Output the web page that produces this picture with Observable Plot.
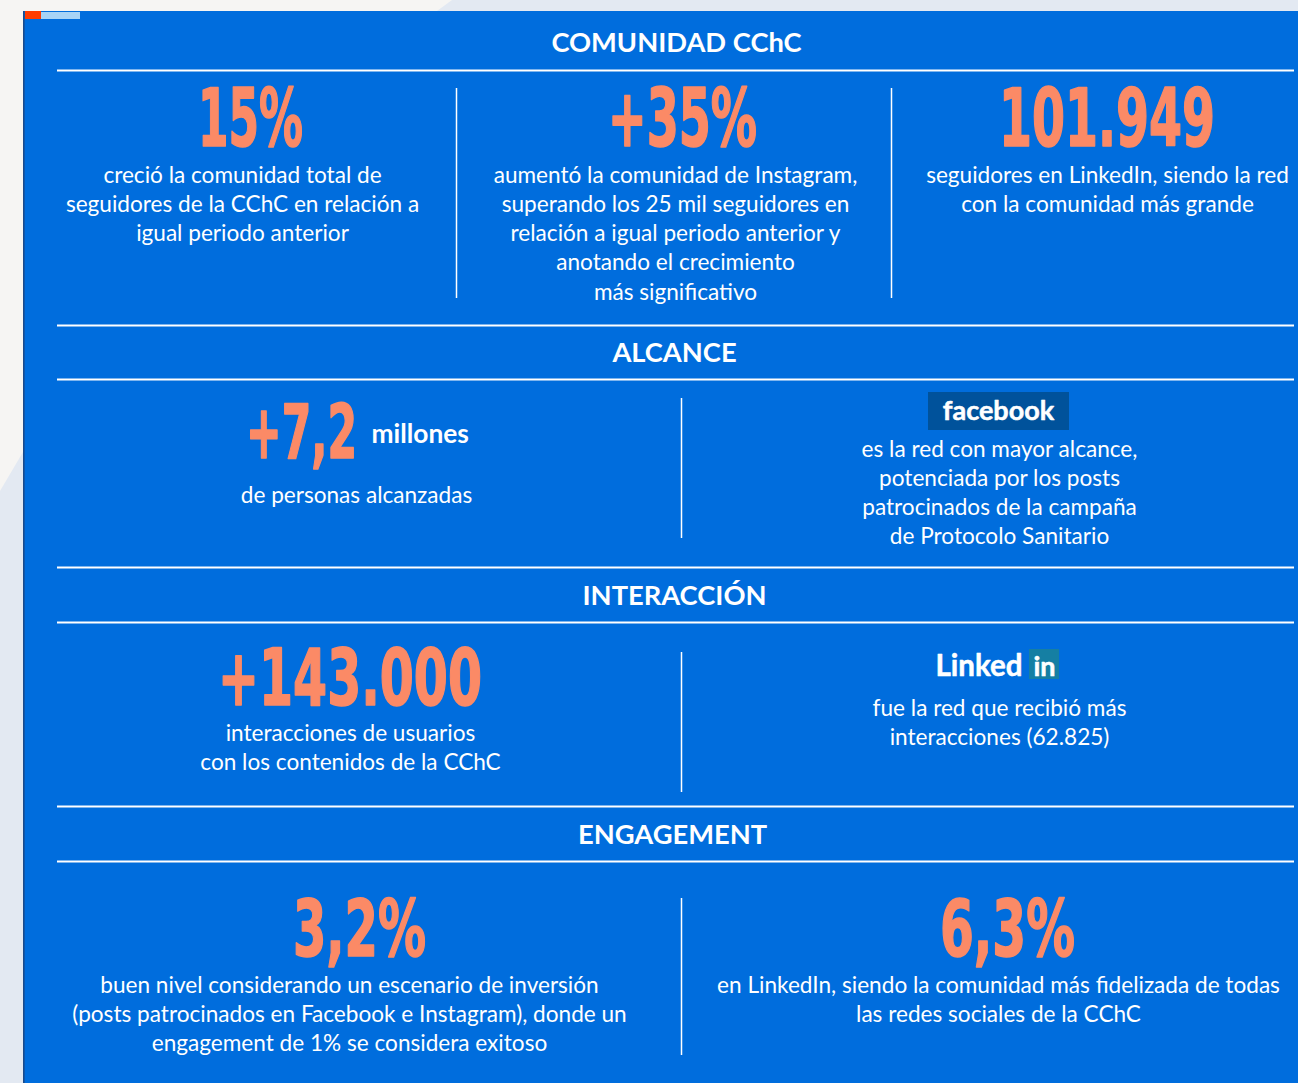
<!DOCTYPE html>
<html><head><meta charset="utf-8">
<script src="https://cdn.jsdelivr.net/npm/d3@7"></script>
<script src="https://cdn.jsdelivr.net/npm/@observablehq/plot@0.6"></script>
<style>
html,body{margin:0;padding:0;background:#f6f5f3;overflow:hidden;}
#chart svg{display:block;}
</style></head><body><div id="chart"></div>
<script>
// ---------- DATA ----------
const sectionTitles = ["COMUNIDAD CChC", "ALCANCE", "INTERACCIÓN", "ENGAGEMENT"];
const keyFigures = ["15%", "+35%", "101.949", "+7,2", "+143.000", "3,2%", "6,3%"];
const figureUnits = ["millones"];
const descriptions = [
  ["creció la comunidad total de", "seguidores de la CChC en relación a", "igual periodo anterior"],
  ["aumentó la comunidad de Instagram,", "superando los 25 mil seguidores en", "relación a igual periodo anterior y", "anotando el crecimiento", "más significativo"],
  ["seguidores en LinkedIn, siendo la red", "con la comunidad más grande"],
  ["de personas alcanzadas"],
  ["es la red con mayor alcance,", "potenciada por los posts", "patrocinados de la campaña", "de Protocolo Sanitario"],
  ["interacciones de usuarios", "con los contenidos de la CChC"],
  ["fue la red que recibió más", "interacciones (62.825)"],
  ["buen nivel considerando un escenario de inversión", "(posts patrocinados en Facebook e Instagram), donde un", "engagement de 1% se considera exitoso"],
  ["en LinkedIn, siendo la comunidad más fidelizada de todas", "las redes sociales de la CChC"]
];
const networkLogos = ["facebook", "Linked", "in"];

// ---------- LAYOUT (positions / sizes / styles) ----------
const W = 1298, H = 1083;
const BLUE = "#006ddd", ORANGE = "#fb8a66", WHITE = "#ffffff";
const bodyFont = "Lato, 'Open Sans', sans-serif";
const figFont = "'Liberation Sans Narrow', 'DejaVu Sans Condensed', 'Arial Narrow', sans-serif";
const titlePos = [{x: 676, y: 51}, {x: 674, y: 361}, {x: 674, y: 604}, {x: 672, y: 843}];
const figurePos = [
  {x: 250, y: 145, w: 105, s: 80}, {x: 682, y: 145, w: 149, s: 80}, {x: 1106.5, y: 145, w: 216, s: 80},
  {x: 301, y: 457, w: 111, s: 74}, {x: 349.5, y: 704, w: 264, s: 79},
  {x: 359, y: 955, w: 133, s: 79}, {x: 1007, y: 955, w: 135, s: 79}
];
const unitPos = [{x: 371, y: 442}];
const descPos = [
  {x: 242, y: 182}, {x: 675, y: 182}, {x: 1107, y: 182},
  {x: 356, y: 502}, {x: 999, y: 456},
  {x: 350, y: 740}, {x: 999, y: 715},
  {x: 349, y: 992}, {x: 998, y: 992}
];
const lineStep = 29.3;
const hRules = [70, 325, 379, 567, 622, 806, 861];
const vRules = [
  {x: 456, y1: 88, y2: 298}, {x: 891, y1: 88, y2: 298},
  {x: 681, y1: 398, y2: 538}, {x: 681, y1: 652, y2: 792}, {x: 681, y1: 898, y2: 1055}
];
const logoBoxes = [
  {x1: 928, x2: 1069, y1: 392, y2: 430, fill: "#00529b"},
  {x1: 1029, x2: 1059, y1: 649, y2: 679, fill: "#157fa3"}
];
const logoText = [
  {x: 998, y: 419, size: 27},
  {x: 935, y: 675, size: 29.5},
  {x: 1044, y: 675, size: 27}
];
const bgShape = [{x: 0, y: 491}, {x: 23, y: 452}, {x: 437, y: 11}, {x: 452, y: 0}, {x: W, y: 0}];
const decoBars = [
  {x1: 23, x2: W, y1: 11, y2: H, fill: BLUE},
  {x1: 23, x2: 24.6, y1: 11, y2: H, fill: "#1a4b8c"},
  {x1: 25, x2: 41, y1: 11, y2: 19, fill: "#ff3c00"},
  {x1: 41, x2: 80, y1: 12, y2: 19, fill: "#a8d4f6"}
];

// ---------- BUILD ROWS ----------
const titleRows = sectionTitles.map((t, i) => ({text: t, ...titlePos[i]}));
const figureRows = keyFigures.map((t, i) => ({text: t, ...figurePos[i]}));
const unitRows = figureUnits.map((t, i) => ({text: t, ...unitPos[i]}));
const descRows = descriptions.flatMap((lines, i) =>
  lines.map((t, j) => ({text: t, x: descPos[i].x, y: descPos[i].y + j * lineStep})));
const logoRows = networkLogos.map((t, i) => ({text: t, ...logoText[i]}));
const logoCentered = logoRows.filter((d, i) => i !== 1);
const logoStart = logoRows.filter((d, i) => i === 1);

const svg = Plot.plot({
  width: W, height: H, margin: 0,
  x: {domain: [0, W], range: [0, W], axis: null},
  y: {domain: [0, H], range: [0, H], axis: null},
  style: {background: "transparent", fontFamily: bodyFont},
  marks: [
    Plot.areaY(bgShape, {x: "x", y1: H, y2: "y", fill: "#e3e9f2", curve: "linear"}),
    Plot.rect(decoBars, {x1: "x1", x2: "x2", y1: "y1", y2: "y2", fill: d => d.fill}),
    Plot.ruleY(hRules, {y: d => d, x1: 57, x2: 1294, stroke: WHITE, strokeWidth: 2}),
    Plot.ruleX(vRules, {x: "x", y1: "y1", y2: "y2", stroke: WHITE, strokeWidth: 1.5}),
    Plot.rect(logoBoxes, {x1: "x1", x2: "x2", y1: "y1", y2: "y2", fill: d => d.fill}),
    Plot.text(titleRows, {x: "x", y: "y", text: "text", fill: WHITE, fontSize: 27.3, fontWeight: "bold", lineAnchor: "bottom", fontFamily: bodyFont}),
    Plot.text(figureRows, {x: "x", y: "y", text: "text", fill: ORANGE, stroke: ORANGE, strokeWidth: 1.6, fontSize: d => d.s, fontWeight: "bold", lineAnchor: "bottom", fontFamily: figFont, className: "bignum"}),
    Plot.text(unitRows, {x: "x", y: "y", text: "text", fill: WHITE, fontSize: 26.3, fontWeight: "bold", textAnchor: "start", lineAnchor: "bottom", fontFamily: bodyFont}),
    Plot.text(descRows, {x: "x", y: "y", text: "text", fill: WHITE, fontSize: 22.6, lineAnchor: "bottom", fontFamily: bodyFont}),
    Plot.text(logoCentered, {x: "x", y: "y", text: "text", fill: WHITE, stroke: WHITE, strokeWidth: 0.5, fontSize: d => d.size, fontWeight: "bold", textAnchor: "middle", lineAnchor: "bottom", fontFamily: bodyFont}),
    Plot.text(logoStart, {x: "x", y: "y", text: "text", fill: WHITE, stroke: WHITE, strokeWidth: 0.5, fontSize: d => d.size, fontWeight: "bold", textAnchor: "start", lineAnchor: "bottom", fontFamily: bodyFont})
  ]
});
document.getElementById("chart").appendChild(svg);
// squeeze the condensed key figures to their measured widths
d3.select(svg).selectAll("g.bignum text").each(function(d) {
  const row = figureRows[d];
  if (row) { this.setAttribute("textLength", row.w); this.setAttribute("lengthAdjust", "spacingAndGlyphs"); }
});
</script></body></html>
